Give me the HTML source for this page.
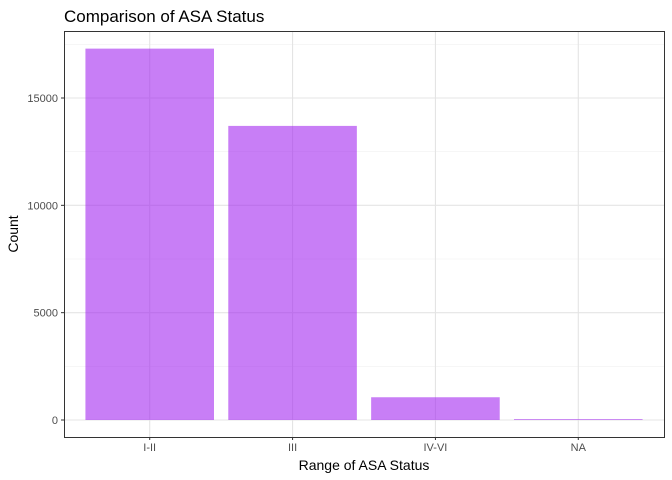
<!DOCTYPE html>
<html><head><meta charset="utf-8"><style>
body{margin:0;background:#fff;}
svg{display:block;font-family:"Liberation Sans",Arial,sans-serif;}
</style></head><body>
<svg id="chart" width="672" height="480">
<text x="64" y="22" font-size="17" fill="#000">Comparison of ASA Status</text>
<g id="grid"></g>
<g id="bars"></g>
<rect x="64.5" y="31.5" width="600" height="406" fill="none" stroke="#333" stroke-width="1"/>
<g id="axes"></g>
<text x="364" y="470" font-size="14" text-anchor="middle" fill="#000">Range of ASA Status</text>
<text transform="translate(18,234) rotate(-90)" font-size="14" text-anchor="middle" fill="#000">Count</text>
</svg>
<script>
const categories = ["I-II","III","IV-VI","NA"];
const counts = [17300,13700,1060,40];
const yTicks = [0,5000,10000,15000];
const yMinor = [2500,7500,12500,17500];
const NS="http://www.w3.org/2000/svg";
const L=64,R=664,T=31,B=437;
function y(v){return 420 - v*(420-98)/15000;}
const step=(R-L)/(categories.length-1+1.2);
function x(i){return L + (i+0.6)*step;}
const bw=step*0.9;
const grid=document.getElementById('grid'),bars=document.getElementById('bars'),axes=document.getElementById('axes');
function mk(tag,attrs,parent){const e=document.createElementNS(NS,tag);for(const k in attrs)e.setAttribute(k,attrs[k]);parent.appendChild(e);return e;}
yMinor.forEach(v=>{const yy=y(v);if(yy<T)return;const l=mk('line',{x1:L,x2:R,y1:yy,y2:yy,stroke:'#f0f0f0','stroke-width':0.6},grid);

});
yTicks.forEach(v=>{const yy=y(v);const l=mk('line',{x1:L,x2:R,y1:yy,y2:yy,stroke:'#e4e4e4','stroke-width':1.1},grid);


const t=mk('line',{x1:L-3,x2:L,y1:yy,y2:yy,stroke:'#333'},axes);


const tx=mk('text',{x:L-6,y:yy+4,'font-size':11,'text-anchor':'end',fill:'#4d4d4d'},axes);tx.textContent=v;

});
categories.forEach((c,i)=>{const cx=x(i);const g=mk('line',{x1:cx,x2:cx,y1:T,y2:B,stroke:'#e4e4e4','stroke-width':1.1},grid);


const h=Math.max(y(0)-y(counts[i]),0.8);
const r=mk('rect',{x:cx-bw/2,y:y(0)-h,width:bw,height:h,fill:'#a020f0','fill-opacity':0.58},bars);


const t=mk('line',{x1:cx,x2:cx,y1:B,y2:B+3,stroke:'#333'},axes);


const tx=mk('text',{x:cx,y:B+14,'font-size':11,'text-anchor':'middle',fill:'#4d4d4d'},axes);tx.textContent=c;

});
</script>
</body></html>
